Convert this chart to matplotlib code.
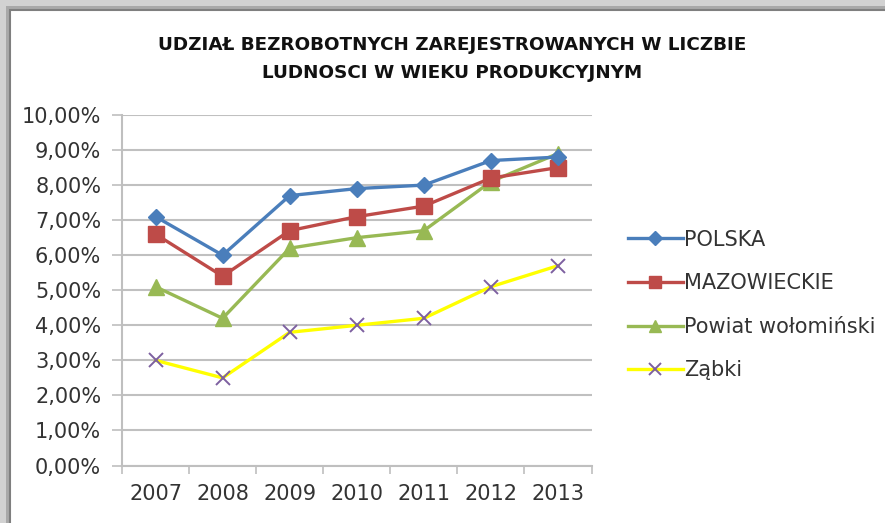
import matplotlib
matplotlib.use('Agg')
import matplotlib.pyplot as plt
from matplotlib.patches import Rectangle
from matplotlib.ticker import FuncFormatter, FixedLocator

# Data
years = ['2007', '2008', '2009', '2010', '2011', '2012', '2013']
polska = [7.1, 6.0, 7.7, 7.9, 8.0, 8.7, 8.8]
mazowieckie = [6.6, 5.4, 6.7, 7.1, 7.4, 8.2, 8.5]
powiat = [5.1, 4.2, 6.2, 6.5, 6.7, 8.1, 8.9]
zabki = [3.0, 2.5, 3.8, 4.0, 4.2, 5.1, 5.7]
yticks = [0, 1, 2, 3, 4, 5, 6, 7, 8, 9, 10]

plt.rcParams['font.family'] = ['DejaVu Sans']

fig = plt.figure(figsize=(8.85, 5.23), dpi=100)
fig.patch.set_facecolor('#d2d2d2')

# Frame with shadow on top/left edges
W, H = 885.0, 523.0
fig.add_artist(Rectangle((6 / W, -0.1), 1.2, 1.1 - 6 / H, transform=fig.transFigure,
                         facecolor='#a9a9a9', edgecolor='none', zorder=0))
fig.add_artist(Rectangle((10 / W, -0.1), 1.2, 1.1 - 10 / H, transform=fig.transFigure,
                         facecolor='white', edgecolor='#7f7f7f', linewidth=1.5, zorder=0))

ax = fig.add_axes([122 / W, 1 - 465.5 / H, (591.5 - 122) / W, (465.5 - 115) / H])
ax.set_facecolor('none')

x = list(range(len(years)))
ax.plot(x, polska, color='#4A7EBB', linewidth=2.4, marker='D', markersize=8.5,
        label='POLSKA', zorder=5)
ax.plot(x, mazowieckie, color='#BE4B48', linewidth=2.4, marker='s', markersize=11,
        label='MAZOWIECKIE', zorder=4)
ax.plot(x, powiat, color='#98B954', linewidth=2.4, marker='^', markersize=11,
        label='Powiat wołomiński', zorder=3)
ax.plot(x, zabki, color='#FFFF00', linewidth=2.4, marker='x', markersize=10,
        markeredgecolor='#7D60A0', markeredgewidth=1.4, label='Ząbki', zorder=3)

ax.set_xlim(-0.5, len(years) - 0.5)
ax.set_ylim(0, 10)
ax.set_yticks(yticks)
ax.yaxis.set_major_formatter(FuncFormatter(lambda v, p: ('%.2f%%' % v).replace('.', ',')))
ax.set_xticks(x)
ax.set_xticklabels(years)
ax.xaxis.set_minor_locator(FixedLocator([i - 0.5 for i in range(len(years) + 1)]))
ax.tick_params(axis='x', which='major', length=0, pad=13, labelsize=15, colors='#333333')
ax.tick_params(axis='x', which='minor', length=6, width=1.2, color='#bfbfbf')
ax.tick_params(axis='y', length=7, width=1.2, color='#bfbfbf', pad=8,
               labelsize=15, labelcolor='#333333')

ax.grid(axis='y', color='#c0c0c0', linewidth=1.5)
ax.set_axisbelow(True)
for s in ['top', 'right']:
    ax.spines[s].set_visible(False)
ax.spines['left'].set_color('#bfbfbf')
ax.spines['left'].set_linewidth(1.5)
ax.spines['bottom'].set_color('#bfbfbf')
ax.spines['bottom'].set_linewidth(1.5)

fig.text(452 / W, 1 - 45 / H, 'UDZIAŁ BEZROBOTNYCH ZAREJESTROWANYCH W LICZBIE',
         ha='center', va='center', fontsize=13.2, fontweight='bold', color='#111111')
fig.text(452 / W, 1 - 73 / H, 'LUDNOSCI W WIEKU PRODUKCYJNYM',
         ha='center', va='center', fontsize=13.2, fontweight='bold', color='#111111')

leg = fig.legend(loc='upper left', bbox_to_anchor=(609 / W, 1 - 211 / H), frameon=False,
                 fontsize=15, handlelength=2.65, handletextpad=0.05, labelspacing=1.13,
                 markerscale=0.8, labelcolor='#333333')

fig.savefig('out.png', dpi=100, facecolor=fig.get_facecolor())
